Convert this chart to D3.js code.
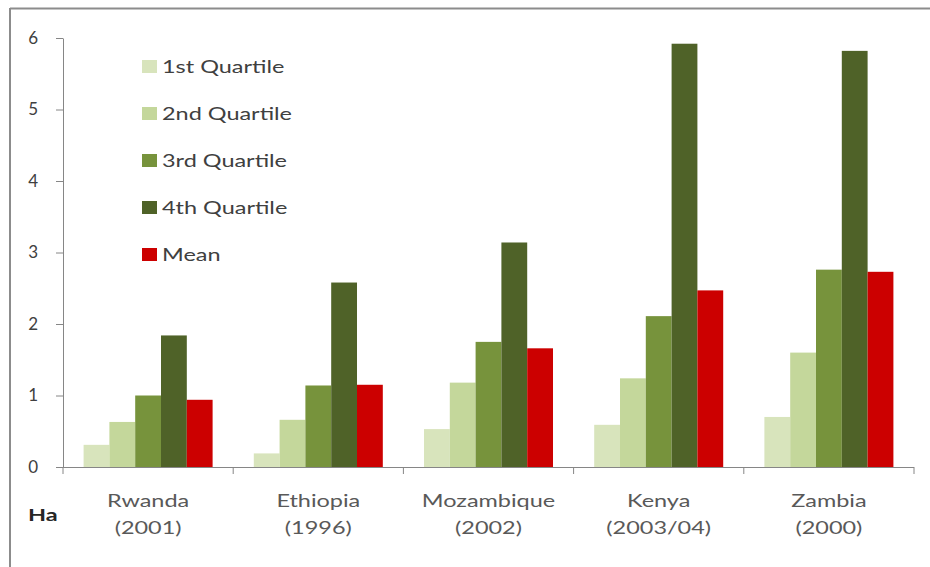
<!DOCTYPE html>
<html>
<head>
<meta charset="utf-8">
<script src="https://cdn.jsdelivr.net/npm/d3@7"></script>
<style>
  html, body { margin: 0; padding: 0; background: #fff; }
  svg { display: block; }
  text { font-family: Lato, "Open Sans", sans-serif; }
</style>
</head>
<body>
<svg id="chart" width="930" height="567"></svg>
<script>
// Farm size (ha) by landholding quartile, with the mean, per country survey
const countries = ["Rwanda", "Ethiopia", "Mozambique", "Kenya", "Zambia"];
const surveyYears = ["(2001)", "(1996)", "(2002)", "(2003/04)", "(2000)"];
const seriesNames = ["1st Quartile", "2nd Quartile", "3rd Quartile", "4th Quartile", "Mean"];
const seriesColors = ["#d8e4bc", "#c4d79b", "#77933c", "#4f6228", "#cc0000"];

const q1 = [0.31, 0.19, 0.53, 0.59, 0.70];
const q2 = [0.63, 0.66, 1.18, 1.24, 1.60];
const q3 = [1.00, 1.14, 1.75, 2.11, 2.76];
const q4 = [1.84, 2.58, 3.14, 5.92, 5.82];
const mean = [0.94, 1.15, 1.66, 2.47, 2.73];
const yTicks = [0, 1, 2, 3, 4, 5, 6];

const seriesValues = [q1, q2, q3, q4, mean];

// wide text: glyphs are drawn stretched horizontally
const stretch = 1.38;

const svg = d3.select("#chart");

// outer frame (top and left edges)
svg.append("line").attr("x1", 10).attr("x2", 930).attr("y1", 8.5).attr("y2", 8.5)
  .attr("stroke", "#8c8c8c").attr("stroke-width", 2);
svg.append("line").attr("x1", 10).attr("x2", 10).attr("y1", 8).attr("y2", 567)
  .attr("stroke", "#8c8c8c").attr("stroke-width", 2);

const x0 = d3.scaleBand().domain(countries).range([63, 914])
  .paddingInner(0.242).paddingOuter(0.121);
const x1 = d3.scaleBand().domain(seriesNames).range([0, x0.bandwidth()]).padding(0);
const y = d3.scaleLinear().domain([0, 6]).range([467, 38]);
const color = d3.scaleOrdinal().domain(seriesNames).range(seriesColors);

// bars
const groups = svg.append("g").selectAll("g")
  .data(countries)
  .join("g")
  .attr("transform", c => `translate(${x0(c)},0)`);

groups.selectAll("rect")
  .data((c, i) => seriesNames.map((s, k) => ({ s, v: seriesValues[k][i] })))
  .join("rect")
  .attr("x", d => x1(d.s))
  .attr("width", x1.bandwidth())
  .attr("y", d => y(d.v))
  .attr("height", d => y(0) - y(d.v))
  .attr("fill", d => color(d.s));

// y axis
const yAxis = svg.append("g")
  .attr("transform", "translate(63,0)")
  .call(d3.axisLeft(y).tickValues(yTicks).tickFormat(d3.format("d")).tickSize(7).tickSizeOuter(0).tickPadding(18));
yAxis.select(".domain").attr("stroke", "#868686");
yAxis.selectAll(".tick line").attr("stroke", "#868686");
yAxis.selectAll(".tick text").attr("fill", "#404040").style("font-size", "17px")
  .style("font-family", "Lato, 'Open Sans', sans-serif");

// x axis baseline with category separators
const boundaries = countries.map(c => x0(c) - x0.step() * x0.paddingInner() / 2)
  .concat([x0(countries[countries.length - 1]) + x0.bandwidth() + x0.step() * x0.paddingInner() / 2]);
const xAxis = svg.append("g");
xAxis.append("line")
  .attr("x1", x0.range()[0]).attr("x2", x0.range()[1])
  .attr("y1", y(0) + 0.5).attr("y2", y(0) + 0.5)
  .attr("stroke", "#868686");
xAxis.selectAll("line.sep")
  .data(boundaries)
  .join("line")
  .attr("class", "sep")
  .attr("x1", d => d).attr("x2", d => d)
  .attr("y1", y(0)).attr("y2", y(0) + 7)
  .attr("stroke", "#868686");

// category labels
const labels = svg.append("g").selectAll("text")
  .data(countries)
  .join("text")
  .attr("text-anchor", "middle")
  .attr("fill", "#595959")
  .style("font-size", "17px")
  .attr("transform", c => `translate(${x0(c) + x0.bandwidth() / 2},0) scale(${stretch},1)`);
labels.append("tspan").attr("x", 0).attr("y", 507).text(c => c);
labels.append("tspan").attr("x", 0).attr("y", 534).text((c, i) => surveyYears[i]);

// unit label
svg.append("text")
  .attr("transform", `translate(28,521) scale(${stretch},1)`)
  .attr("fill", "#262626")
  .style("font-size", "17px").style("font-weight", "bold")
  .text("Ha");

// legend
const legend = svg.append("g").selectAll("g")
  .data(seriesNames)
  .join("g")
  .attr("transform", (d, i) => `translate(142,${66 + i * 47})`);
legend.append("rect")
  .attr("x", 0).attr("y", -6).attr("width", 15).attr("height", 13)
  .attr("fill", d => color(d));
legend.append("text")
  .attr("transform", `translate(20,7) scale(${stretch},1)`)
  .attr("fill", "#404040")
  .style("font-size", "17px")
  .text(d => d);
</script>
</body>
</html>
